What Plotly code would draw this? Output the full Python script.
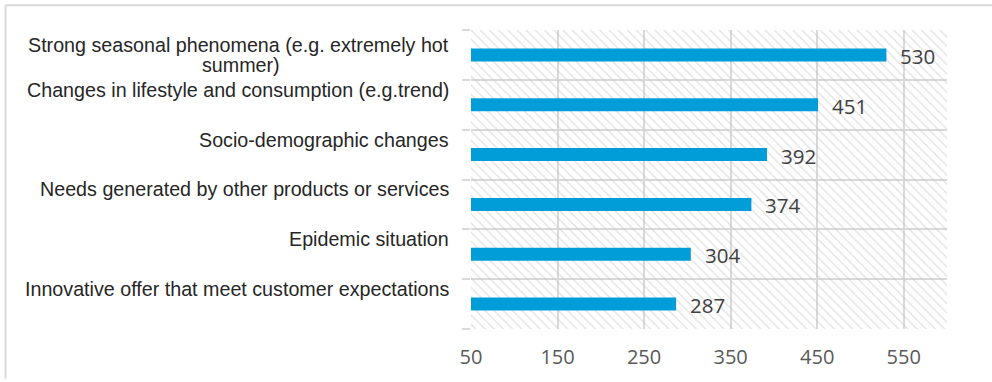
import plotly.graph_objects as go

# Survey results: factors driving demand
categories = [
    "Strong seasonal phenomena (e.g. extremely hot<br>summer)",
    "Changes in lifestyle and consumption (e.g.trend)",
    "Socio-demographic changes",
    "Needs generated by other products or services",
    "Epidemic situation",
    "Innovative offer that meet customer expectations",
]
values = [530, 451, 392, 374, 304, 287]
x_ticks = [50, 150, 250, 350, 450, 550]

X_MIN, X_MAX = 50, 600
W, H = 992, 382
M_L, M_R, M_T, M_B = 471, 45, 30, 50
PLOT_W = W - M_L - M_R
PLOT_H = H - M_T - M_B

GRID = "#d9d9d9"
BAR = "#009dd9"
LABEL_PAD = 20        # gap between category labels and the plot area
LINE_STEP = 20        # pixel spacing between lines of a wrapped label
WRAP_CENTER = 230     # distance from the axis to the centre of a wrapped label

n = len(categories)
pos = list(range(n))
y_lo, y_hi = -0.5, n - 0.5

fig = go.Figure()

# hatched plot-area background, drawn as one bar behind the data bars
fig.add_trace(go.Bar(
    x=[X_MAX - X_MIN], base=X_MIN, y=[(n - 1) / 2], width=n,
    orientation="h",
    marker=dict(color="rgba(0,0,0,0)", line=dict(width=0),
                pattern=dict(shape="\\", fgcolor="#c4c4c4",
                             bgcolor="rgba(0,0,0,0)", size=6.5,
                             solidity=0.2, fillmode="overlay")),
    hoverinfo="skip", showlegend=False,
))

fig.add_trace(go.Bar(
    x=[v - X_MIN for v in values], base=X_MIN, y=pos, orientation="h",
    width=0.26, marker=dict(color=BAR, line=dict(width=0)),
    hoverinfo="skip", showlegend=False,
))

annotations = []
# value labels to the right of each bar
for p, v in zip(pos, values):
    annotations.append(dict(
        x=v, y=p, xref="x", yref="y", text=str(v), showarrow=False,
        xanchor="left", yanchor="middle", xshift=12, yshift=-1,
        font=dict(family="Open Sans", size=20.5, color="#404040"),
    ))

# category labels; wrapped lines are centred under the first line
label_font = dict(family="Liberation Sans, Arial", size=19.7, color="#262626")
for p, c in zip(pos, categories):
    lines = c.split("<br>")
    if len(lines) == 1:
        annotations.append(dict(
            x=0, y=p, xref="paper", yref="y", text=c, showarrow=False,
            xanchor="right", yanchor="middle", xshift=-LABEL_PAD, yshift=15,
            font=label_font,
        ))
        continue
    top = (len(lines) - 1) / 2 * LINE_STEP
    for i, line in enumerate(lines):
        annotations.append(dict(
            x=0, y=p, xref="paper", yref="y", text=line, showarrow=False,
            xanchor="right" if i == 0 else "center", yanchor="middle",
            xshift=-LABEL_PAD if i == 0 else -WRAP_CENTER,
            yshift=top - i * LINE_STEP, font=label_font,
        ))
fig.update_layout(annotations=annotations)

# outer chart frame (top and left edges)
def px_to_paper_x(px):
    return (px - M_L) / PLOT_W

def px_to_paper_y(py):
    return 1 - (py - M_T) / PLOT_H

frame = dict(color=GRID, width=2)
fig.add_shape(type="line", xref="paper", yref="paper",
              x0=px_to_paper_x(5.5), x1=px_to_paper_x(W),
              y0=px_to_paper_y(5), y1=px_to_paper_y(5), line=frame)
fig.add_shape(type="line", xref="paper", yref="paper",
              x0=px_to_paper_x(5.5), x1=px_to_paper_x(5.5),
              y0=px_to_paper_y(5), y1=px_to_paper_y(H), line=frame)

fig.update_xaxes(
    range=[X_MIN, X_MAX], tickvals=x_ticks, ticks="", showline=False,
    showgrid=True, gridcolor=GRID, gridwidth=2, zeroline=False,
    tickfont=dict(family="Open Sans", size=20, color="#595959"),
    ticklabelstandoff=14, fixedrange=True,
)
fig.update_yaxes(
    range=[y_hi, y_lo], tickvals=[k - 0.5 for k in range(n + 1)],
    showticklabels=False, ticks="outside", ticklen=8, tickwidth=2,
    tickcolor=GRID, showgrid=True, gridcolor=GRID, gridwidth=2,
    showline=False, zeroline=False, fixedrange=True,
)

fig.update_layout(
    width=W, height=H,
    margin=dict(l=M_L, r=M_R, t=M_T, b=M_B, pad=0),
    paper_bgcolor="white", plot_bgcolor="white",
    barmode="overlay", showlegend=False,
)

fig.write_html("out.html", include_plotlyjs=True, config={"displayModeBar": False})
